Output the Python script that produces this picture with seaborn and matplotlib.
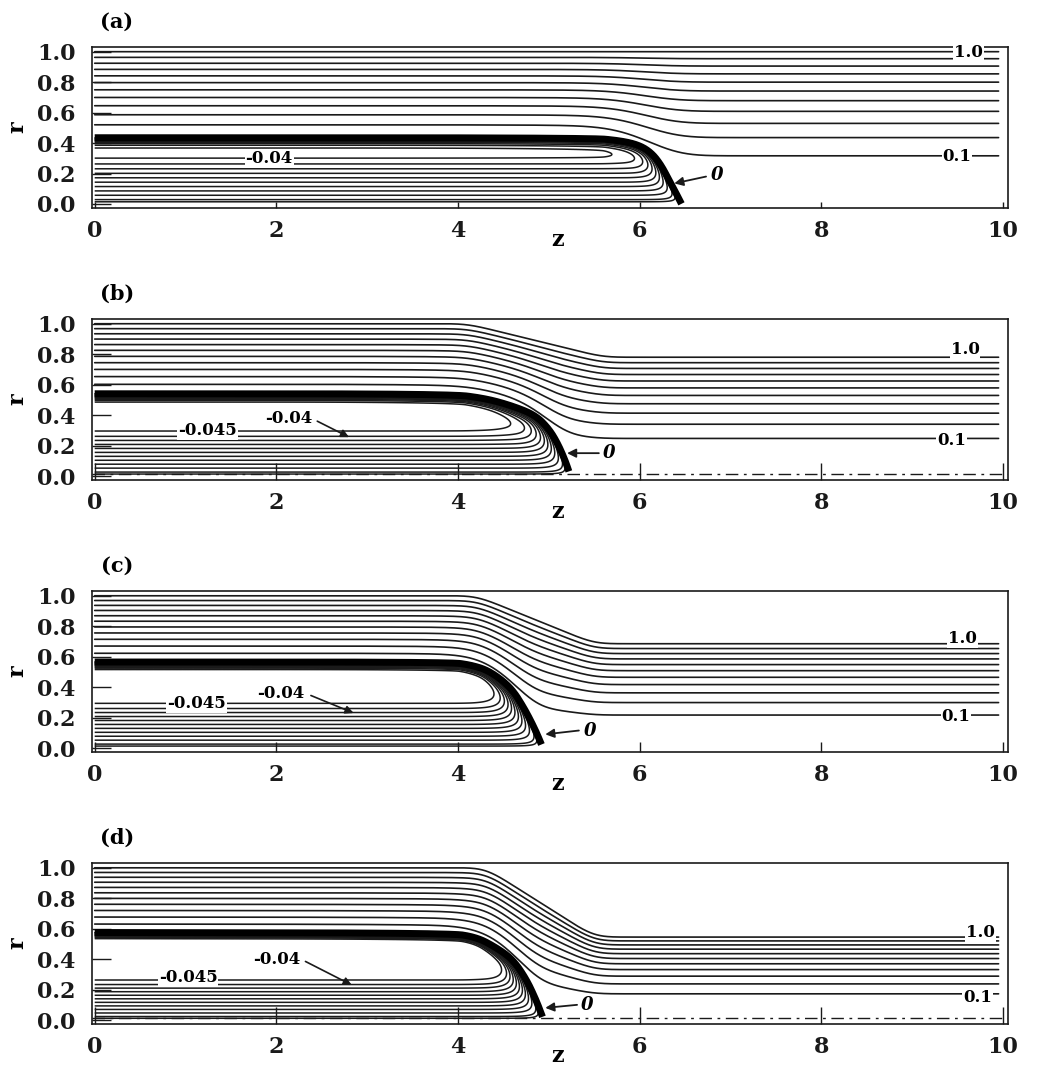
import numpy as np
import pandas as pd
import matplotlib
matplotlib.use("Agg")
import matplotlib.pyplot as plt
import seaborn as sns

sns.set_theme(style="white")
plt.rcParams["font.family"] = ["DejaVu Serif", "DejaVu Sans"]
plt.rcParams["text.color"] = "black"
plt.rcParams["axes.labelcolor"] = "black"
plt.rcParams["xtick.color"] = "black"
plt.rcParams["ytick.color"] = "black"
plt.rcParams["contour.negative_linestyle"] = "solid"

# ---------------- data ----------------
panel_tags = ["(a)", "(b)", "(c)", "(d)"]
x_ticks = [0, 2, 4, 6, 8, 10]
y_ticks = [0.0, 0.2, 0.4, 0.6, 0.8, 1.0]

# positive stream-function levels (outer flow)
outer_levels = [0.1, 0.19, 0.28, 0.37, 0.46, 0.55, 0.64, 0.73, 0.82, 0.91, 1.0]
# negative levels (recirculation inside the bubble)
inner_levels_a = [-0.040, -0.036, -0.032, -0.028, -0.024, -0.020, -0.016, -0.012, -0.008, -0.004, -0.002]
inner_levels_b = [-0.045, -0.040, -0.036, -0.032, -0.028, -0.024, -0.020, -0.016, -0.012, -0.008, -0.004, -0.002]
inner_levels_c = [-0.045, -0.040, -0.036, -0.032, -0.028, -0.024, -0.020, -0.016, -0.012, -0.008, -0.004, -0.002]
inner_levels_d = [-0.045, -0.040, -0.036, -0.032, -0.028, -0.024, -0.020, -0.016, -0.012, -0.008, -0.004, -0.002]

# interface (psi = 0)
iface_z_a = [0.0, 5.45, 5.80, 6.00, 6.13, 6.23, 6.32, 6.40, 6.46]
iface_r_a = [0.435, 0.435, 0.415, 0.385, 0.335, 0.26, 0.16, 0.07, 0.0]
iface_z_b = [0.0, 3.90, 4.30, 4.60, 4.85, 5.00, 5.10, 5.18, 5.22]
iface_r_b = [0.54, 0.54, 0.51, 0.46, 0.40, 0.31, 0.21, 0.10, 0.03]
iface_z_c = [0.0, 3.90, 4.15, 4.35, 4.58, 4.73, 4.85, 4.92]
iface_r_c = [0.565, 0.565, 0.545, 0.505, 0.40, 0.26, 0.12, 0.02]
iface_z_d = [0.0, 3.90, 4.20, 4.41, 4.60, 4.75, 4.86, 4.93]
iface_r_d = [0.575, 0.572, 0.545, 0.48, 0.40, 0.27, 0.13, 0.02]

# outermost streamline (psi = 1.0)
outer_z_a = [0.0, 10.0]
outer_r_a = [1.0, 1.0]
outer_z_b = [0.0, 4.1, 5.6, 10.0]
outer_r_b = [1.0, 1.0, 0.78, 0.78]
outer_z_c = [0.0, 4.2, 5.5, 10.0]
outer_r_c = [1.0, 1.0, 0.685, 0.685]
outer_z_d = [0.0, 4.3, 5.5, 10.0]
outer_r_d = [1.0, 1.0, 0.545, 0.545]

vortex_strength = [0.14, 0.155, 0.155, 0.172]
vortex_width = [0.045, 0.06, 0.06, 0.06]
outer_smooth = [0.35, 0.25, 0.22, 0.22]
has_axis_line = [False, True, False, True]

# annotations
top_label = "1.0"
bottom_label = "0.1"
zero_label = "0"
top_label_pos = [(9.62, 0.995), (9.58, 0.83), (9.55, 0.72), (9.75, 0.575)]
bottom_label_pos = [(9.49, 0.31), (9.43, 0.23), (9.48, 0.21), (9.72, 0.15)]
zero_text_pos = [(6.85, 0.19), (5.66, 0.15), (5.45, 0.115), (5.42, 0.10)]
zero_arrow_tail = [(6.73, 0.18), (5.55, 0.15), (5.33, 0.115), (5.31, 0.10)]
zero_arrow_head = [(6.38, 0.135), (5.2, 0.15), (4.96, 0.09), (4.96, 0.08)]
inner_main_text = ["-0.04", "-0.045", "-0.045", "-0.045"]
inner_main_pos = [(1.92, 0.30), (1.24, 0.30), (1.12, 0.29), (1.03, 0.28)]
inner_second_text = [None, "-0.04", "-0.04", "-0.04"]
inner_second_pos = [None, (2.14, 0.375), (2.05, 0.36), (2.0, 0.40)]
inner_arrow_tail = [None, (2.45, 0.36), (2.38, 0.345), (2.32, 0.385)]
inner_arrow_head = [None, (2.8, 0.255), (2.85, 0.23), (2.83, 0.23)]

# ---------------- helpers ----------------
KZ = 0.6  # visual scale of one z unit in r units


def chaikin(z, r, n=5):
    p = np.column_stack([np.asarray(z, float) * KZ, np.asarray(r, float)])
    for _ in range(n):
        q = 0.75 * p[:-1] + 0.25 * p[1:]
        s = 0.25 * p[:-1] + 0.75 * p[1:]
        mid = np.empty((2 * len(q), 2))
        mid[0::2] = q
        mid[1::2] = s
        p = np.vstack([p[:1], mid, p[-1:]])
    return p[:, 0] / KZ, p[:, 1]


def densify(z, r, step=0.004):
    pts = np.column_stack([z * KZ, r])
    seg = np.hypot(*np.diff(pts, axis=0).T)
    s = np.concatenate([[0], np.cumsum(seg)])
    t = np.arange(0, s[-1], step)
    return np.interp(t, s, z), np.interp(t, s, r)


def gsmooth(y, dz, sigma):
    n = int(4 * sigma / dz)
    k = np.exp(-0.5 * (np.arange(-n, n + 1) * dz / sigma) ** 2)
    k /= k.sum()
    return np.convolve(np.pad(y, n, mode="edge"), k, mode="valid")


iface_z = [iface_z_a, iface_z_b, iface_z_c, iface_z_d]
iface_r = [iface_r_a, iface_r_b, iface_r_c, iface_r_d]
outer_z = [outer_z_a, outer_z_b, outer_z_c, outer_z_d]
outer_r = [outer_r_a, outer_r_b, outer_r_c, outer_r_d]
inner_levels = [inner_levels_a, inner_levels_b, inner_levels_c, inner_levels_d]

fig = plt.figure(figsize=(10.37, 10.71), dpi=100)
bottoms = [0.806, 0.552, 0.298, 0.044]
xtick_len = [4, 12, 7, 12]

txt_kw = dict(fontweight="bold", ha="center", va="center", zorder=6, color="black")
wbox = dict(facecolor="white", edgecolor="none", pad=0.6)

for i in range(4):
    ax = fig.add_axes([0.0887, bottoms[i], 0.883, 0.150])
    cz, cr = chaikin(iface_z[i], iface_r[i])
    cz, cr = densify(cz, cr)
    znose = cz[-1]

    # ---- inner (recirculation) field ----
    zz = np.linspace(0.0, znose + 0.05, 700)
    rr = np.linspace(0.0, max(cr) + 0.01, 420)
    Z, R = np.meshgrid(zz, rr)
    Ri = np.interp(zz, cz, cr, right=0.0)
    inside = (R < Ri[None, :]) & (Z <= znose)
    dist = np.full(Z.shape, 10.0)
    for pz, pr in zip(cz[::2], cr[::2]):
        np.minimum(dist, np.hypot((Z - pz) * KZ, R - pr), out=dist)
    psi = -vortex_strength[i] * R * (1.0 - np.exp(-dist / vortex_width[i]))
    psi[~inside] = 0.001
    ax.contour(Z, R, psi, levels=sorted(inner_levels[i]), colors="k",
               linewidths=1.1, linestyles="solid", zorder=3)

    # ---- outer streamlines ----
    zg = np.linspace(0.0, 9.95, 1991)
    dz = zg[1] - zg[0]
    ri_s = gsmooth(np.interp(zg, cz, cr, right=0.0), dz, outer_smooth[i])
    ro_s = gsmooth(np.interp(zg, outer_z[i], outer_r[i]), dz, 0.13)
    rows = []
    for lev in outer_levels:
        rl = np.sqrt((1 - lev) * ri_s ** 2 + lev * ro_s ** 2)
        rows.append(pd.DataFrame({"z": zg, "r": rl, "level": lev}))
    df = pd.concat(rows, ignore_index=True)
    sns.lineplot(data=df, x="z", y="r", units="level", estimator=None,
                 color="k", linewidth=1.2, sort=False, legend=False, ax=ax,
                 zorder=3)

    # ---- interface ----
    ax.plot(cz, cr, color="black", lw=5.0, solid_capstyle="butt", zorder=4)

    if has_axis_line[i]:
        ax.axhline(0.012, color="k", lw=1.0, dashes=(9, 4, 2, 4), zorder=2)

    # ---- annotations ----
    ax.text(*top_label_pos[i], top_label, fontsize=12, bbox=wbox, **txt_kw)
    ax.text(*bottom_label_pos[i], bottom_label, fontsize=12, bbox=wbox, **txt_kw)
    ax.text(*zero_text_pos[i], zero_label, fontsize=13, style="italic", **txt_kw)
    ax.annotate("", xy=zero_arrow_head[i], xytext=zero_arrow_tail[i],
                arrowprops=dict(arrowstyle="-|>", color="k", lw=1.3,
                                mutation_scale=13, shrinkA=0, shrinkB=0),
                zorder=6)
    ax.text(*inner_main_pos[i], inner_main_text[i], fontsize=12, bbox=wbox, **txt_kw)
    if inner_second_text[i] is not None:
        ax.text(*inner_second_pos[i], inner_second_text[i], fontsize=12, **txt_kw)
        ax.annotate("", xy=inner_arrow_head[i], xytext=inner_arrow_tail[i],
                    arrowprops=dict(arrowstyle="-|>", color="k", lw=1.2,
                                    mutation_scale=12, shrinkA=0, shrinkB=0),
                    zorder=6)

    # ---- axes styling ----
    ax.set_xlim(-0.03, 10.05)
    ax.set_ylim(-0.025, 1.03)
    ax.set_xticks(x_ticks)
    ax.set_xticklabels([str(t) for t in x_ticks])
    ax.set_yticks(y_ticks)
    ax.set_yticklabels([f"{t:.1f}" for t in y_ticks])
    ax.tick_params(axis="x", direction="in", length=xtick_len[i], width=1.0,
                   pad=9, labelsize=16, colors="k", bottom=True)
    ax.tick_params(axis="y", direction="in", length=14, width=1.0,
                   pad=12, labelsize=16, colors="k", left=True)
    for lbl in ax.get_xticklabels() + ax.get_yticklabels():
        lbl.set_fontweight("bold")
    for sp in ax.spines.values():
        sp.set_color("k")
        sp.set_linewidth(1.2)
    ax.set_xlabel("")
    ax.set_ylabel("")
    ax.text(0.509, -0.2, "z", transform=ax.transAxes, fontsize=16,
            fontweight="bold", ha="center", va="center", color="black")
    ax.text(-0.081, 0.5, "r", transform=ax.transAxes, fontsize=16,
            fontweight="bold", ha="center", va="center", rotation=90, color="black")
    ax.text(0.027, 1.16, panel_tags[i], transform=ax.transAxes, fontsize=15,
            fontweight="bold", ha="center", va="center", color="black")

fig.savefig("out.png", dpi=100, facecolor="white")
